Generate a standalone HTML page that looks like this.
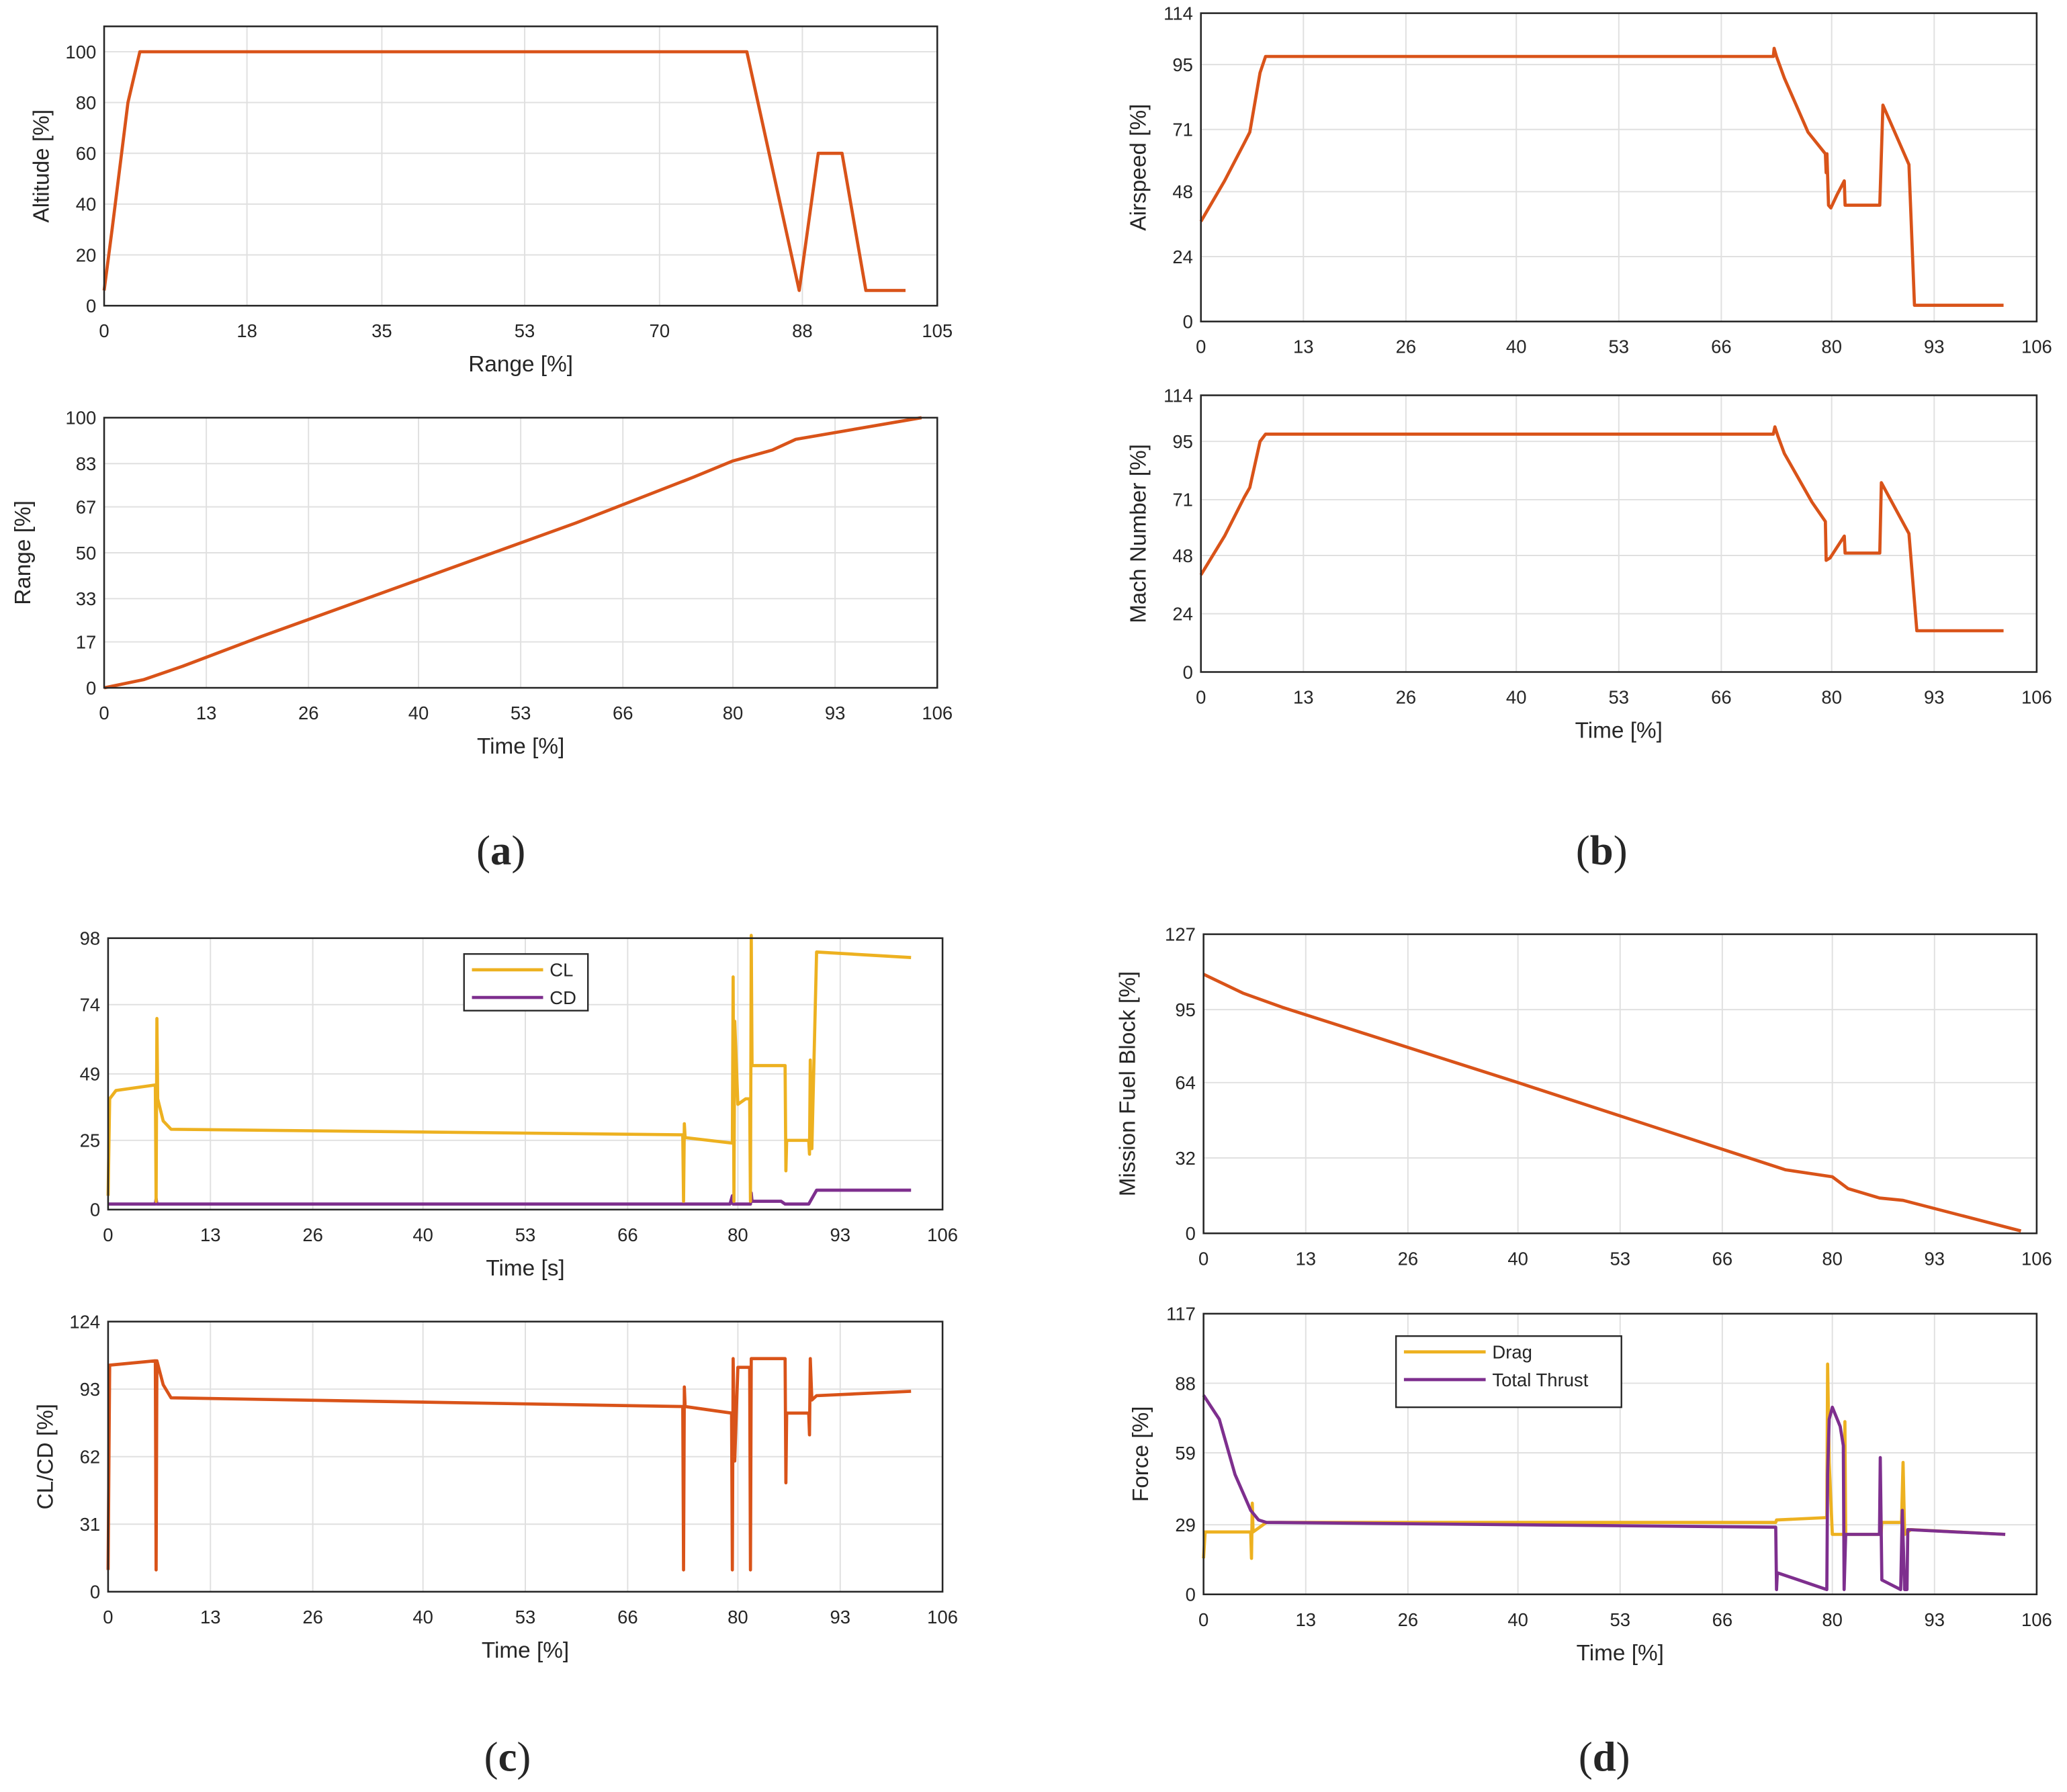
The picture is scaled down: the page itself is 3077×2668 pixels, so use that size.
<!DOCTYPE html>
<html><head><meta charset="utf-8"><style>
html,body{margin:0;padding:0;background:#fff;}
svg{display:block;}
text{font-family:"Liberation Sans",sans-serif;fill:#262626;}
</style></head><body>
<svg id="fig" width="3077" height="2668" viewBox="0 0 1568 1360" preserveAspectRatio="none" xmlns="http://www.w3.org/2000/svg">
<text x="380" y="656" font-family="Liberation Serif,serif" font-size="32" text-anchor="middle" style="font-family:'Liberation Serif',serif">(<tspan font-weight="bold">a</tspan>)</text>
<text x="1215" y="656" font-size="32" text-anchor="middle" style="font-family:'Liberation Serif',serif">(<tspan font-weight="bold">b</tspan>)</text>
<text x="385" y="1344" font-size="32" text-anchor="middle" style="font-family:'Liberation Serif',serif">(<tspan font-weight="bold">c</tspan>)</text>
<text x="1217" y="1344" font-size="32" text-anchor="middle" style="font-family:'Liberation Serif',serif">(<tspan font-weight="bold">d</tspan>)</text>
</svg>
<script>
const T106=[0,13,26,40,53,66,80,93,106];
const altitudeSeries=[[0,6],[1,30],[3,80],[4.5,100],[81,100],[87.6,6],[90,60],[93,60],[96,6],[101,6]];
const rangeSeries=[[0,0],[5,3],[10,8],[20,19],[40,40],[60,61],[75,78],[80,84],[85,88],[88,92],[104,100]];
const airspeedSeries=[[0,37],[3,52],[5.5,66],[6.2,70],[7.5,92],[8.2,98],[40,98],[72.6,98],[72.7,101],[73,98],[74,90],[77,70],[79.2,62],[79.3,55],[79.4,62],[79.6,43],[79.9,42],[80.7,47],[81.6,52],[81.7,43],[86.1,43],[86.5,80],[89.8,58],[90.5,6],[101.8,6]];
const machSeries=[[0,40],[3,56],[5.5,72],[6.2,76],[7.5,95],[8.2,98],[72.6,98],[72.8,101],[73.2,97],[74,90],[77.5,70],[79.2,62],[79.3,46],[79.8,47],[81.6,56],[81.7,49],[86.1,49],[86.3,78],[89.8,57],[90.8,17],[101.8,17]];
const clSeries=[[0,5],[0.2,40],[1,43],[6,45],[6.1,3],[6.2,69],[6.3,40],[7,32],[8,29],[73,27],[73.1,3],[73.2,31],[73.3,26],[79.3,24],[79.4,84],[79.5,3],[79.6,68],[80,38],[81,40],[81.5,40],[81.6,3],[81.7,99],[81.8,52],[86,52],[86.1,14],[86.2,25],[89,25],[89.1,20],[89.2,54],[89.4,22],[90,93],[102,91]];
const cdSeries=[[0,2],[6,2],[6.1,4],[6.2,2],[79,2],[79.3,5],[79.4,2],[81.6,2],[81.7,6],[81.8,3],[85.5,3],[86,2],[89,2],[90,7],[102,7]];
const clcdSeries=[[0,10],[0.2,104],[6,106],[6.1,10],[6.2,106],[7,95],[8,89],[73,85],[73.1,10],[73.2,94],[73.3,85],[79.2,82],[79.3,10],[79.4,107],[79.6,60],[80,103],[81.5,103],[81.6,10],[81.7,107],[86,107],[86.1,50],[86.2,82],[89,82],[89.1,72],[89.2,107],[89.4,88],[90,90],[102,92]];
const fuelSeries=[[0,110],[5,102],[10,96],[40,64],[74,27],[80,24],[82,19],[86,15],[89,14],[104,1]];
const dragSeries=[[0,15],[0.2,26],[6,26],[6.1,15],[6.2,38],[6.3,26],[8,30],[72.8,30],[72.9,31],[79.3,32],[79.4,96],[79.6,55],[80,25],[81.5,25],[81.6,72],[81.7,25],[86.2,25],[86.3,30],[88.8,30],[89,55],[89.2,25],[90,27],[102,25]];
const thrustSeries=[[0,83],[2,73],[4,50],[6,35],[7,31],[8,30],[72.8,28],[72.9,2],[73,9],[79.3,2],[79.4,50],[79.6,73],[80,78],[81,70],[81.4,62],[81.5,2],[81.7,25],[86,25],[86.1,57],[86.3,6],[88.7,2],[88.9,35],[89.2,2],[89.5,2],[89.6,27],[102,25]];
const OR='#d95319',YE='#edb120',PU='#7e2f8e';
const svg=document.getElementById('fig');const NS='http://www.w3.org/2000/svg';
function mk(tag,at,parent){const e=document.createElementNS(NS,tag);for(const k in at)e.setAttribute(k,at[k]);(parent||svg).appendChild(e);return e;}
function panel(p){
  const g=mk('g',{});
  
  
  const X=v=>p.x0+(v-p.xmin)/(p.xmax-p.xmin)*(p.x1-p.x0);
  const Y=v=>p.y1-(v-p.ymin)/(p.ymax-p.ymin)*(p.y1-p.y0);
  mk('rect',{x:p.x0,y:p.y0,width:p.x1-p.x0,height:p.y1-p.y0,fill:'#fff'},g);
  p.xt.forEach(t=>{const l=mk('line',{x1:X(t),x2:X(t),y1:p.y0,y2:p.y1,stroke:'#e0e0e0','stroke-width':1},g);
    
    const tx=mk('text',{x:X(t),y:p.y1+24,'font-size':14,'text-anchor':'middle'},g);tx.textContent=t;
    });
  p.yt.forEach(t=>{const l=mk('line',{x1:p.x0,x2:p.x1,y1:Y(t),y2:Y(t),stroke:'#e0e0e0','stroke-width':1},g);
    
    const tx=mk('text',{x:p.x0-6,y:Y(t)+5,'font-size':14,'text-anchor':'end'},g);tx.textContent=t;
    });
  p.series.forEach(s=>{const pl=mk('polyline',{points:s.d.map(q=>X(q[0])+','+Y(q[1])).join(' '),fill:'none',stroke:s.c,'stroke-width':2.4,'stroke-linejoin':'round'},g);
    });
  const b=mk('rect',{x:p.x0,y:p.y0,width:p.x1-p.x0,height:p.y1-p.y0,fill:'none',stroke:'#262626','stroke-width':1.3},g);
  
  const xl=mk('text',{x:(p.x0+p.x1)/2,y:p.y1+50,'font-size':17,'text-anchor':'middle'},g);xl.textContent=p.xl;
  
  const cy=(p.y0+p.y1)/2,cx=p.x0-(p.ylOff||42);
  const yl=mk('text',{x:cx,y:cy,'font-size':17,'text-anchor':'middle',transform:`rotate(-90 ${cx} ${cy})`},g);yl.textContent=p.yl;
  
  if(p.legend){const L=p.legend;
    const r=mk('rect',{x:L.x,y:L.y,width:L.w,height:L.h,fill:'#fff',stroke:'#262626','stroke-width':1.2},g);
    
    L.items.forEach((it,i)=>{const yy=L.y+12+i*21;
      const ln=mk('line',{x1:L.x+6,x2:L.x+L.lw,y1:yy,y2:yy,stroke:it.c,'stroke-width':2.4},g);
      
      const tx=mk('text',{x:L.x+L.lw+5,y:yy+5,'font-size':14},g);tx.textContent=it.n;
      });}
}
panel({name:'altitude-chart',x0:79,x1:711,y0:20,y1:232,xmin:0,xmax:105,ymin:0,ymax:110,xt:[0,18,35,53,70,88,105],yt:[0,20,40,60,80,100],xl:'Range [%]',yl:'Altitude [%]',series:[{d:altitudeSeries,c:OR,n:'altitude-line'}]});
panel({name:'range-chart',x0:79,x1:711,y0:317,y1:522,xmin:0,xmax:106,ymin:0,ymax:100,xt:T106,yt:[0,17,33,50,67,83,100],xl:'Time [%]',yl:'Range [%]',ylOff:56,series:[{d:rangeSeries,c:OR,n:'range-line'}]});
panel({name:'airspeed-chart',x0:911,x1:1545,y0:10,y1:244,xmin:0,xmax:106,ymin:0,ymax:114,xt:T106,yt:[0,24,48,71,95,114],xl:'',yl:'Airspeed [%]',series:[{d:airspeedSeries,c:OR,n:'airspeed-line'}]});
panel({name:'mach-chart',x0:911,x1:1545,y0:300,y1:510,xmin:0,xmax:106,ymin:0,ymax:114,xt:T106,yt:[0,24,48,71,95,114],xl:'Time [%]',yl:'Mach Number [%]',series:[{d:machSeries,c:OR,n:'mach-line'}]});
panel({name:'cl-cd-chart',x0:82,x1:715,y0:712,y1:918,xmin:0,xmax:106,ymin:0,ymax:98,xt:T106,yt:[0,25,49,74,98],xl:'Time [s]',yl:'',series:[{d:cdSeries,c:PU,n:'cd-line'},{d:clSeries,c:YE,n:'cl-line'}],legend:{x:352,y:724,w:94,h:43,lw:60,items:[{n:'CL',c:YE},{n:'CD',c:PU}]}});
panel({name:'clcd-ratio-chart',x0:82,x1:715,y0:1003,y1:1208,xmin:0,xmax:106,ymin:0,ymax:124,xt:T106,yt:[0,31,62,93,124],xl:'Time [%]',yl:'CL/CD [%]',series:[{d:clcdSeries,c:OR,n:'clcd-line'}]});
panel({name:'fuel-chart',x0:913,x1:1545,y0:709,y1:936,xmin:0,xmax:106,ymin:0,ymax:127,xt:T106,yt:[0,32,64,95,127],xl:'',yl:'Mission Fuel Block [%]',ylOff:52,series:[{d:fuelSeries,c:OR,n:'fuel-line'}]});
panel({name:'force-chart',x0:913,x1:1545,y0:997,y1:1210,xmin:0,xmax:106,ymin:0,ymax:117,xt:T106,yt:[0,29,59,88,117],xl:'Time [%]',yl:'Force [%]',series:[{d:dragSeries,c:YE,n:'drag-line'},{d:thrustSeries,c:PU,n:'thrust-line'}],legend:{x:1059,y:1014,w:171,h:54,lw:68,items:[{n:'Drag',c:YE},{n:'Total Thrust',c:PU}]}});
</script>
</body></html>
